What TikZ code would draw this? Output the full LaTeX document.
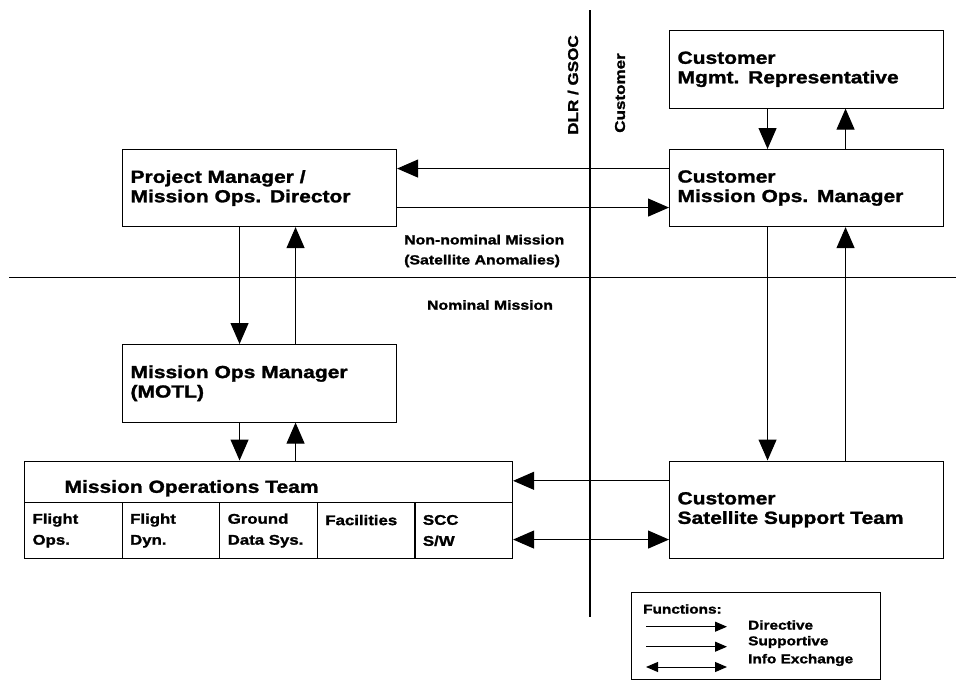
\documentclass[tikz,border=0pt]{standalone}
\usepackage{fontspec}
\setmainfont{Liberation Sans}[FakeStretch=1.2, BoldFeatures={FakeBold=1.5}]
\usetikzlibrary{arrows.meta}

\begin{document}
\begin{tikzpicture}[x=1pt, y=-1pt,
    box/.style={draw, line width=1.1pt, anchor=north west, align=left,
        inner xsep=8pt, inner ysep=0pt, text width=258pt, minimum width=274pt,
        font=\bfseries\fontsize{17.5}{19.5}\selectfont},
    cell/.style={draw, line width=1.1pt, anchor=north west, align=left,
        inner xsep=8pt, inner ysep=0pt, text width=81.6pt, minimum width=97.6pt,
        minimum height=56pt, font=\bfseries\fontsize{14}{21}\selectfont},
    note/.style={align=left, inner sep=0pt, font=\bfseries\fontsize{13.2}{20}\selectfont},
    side/.style={inner sep=0pt, font=\bfseries\fontsize{14.2}{17}\selectfont},
    legtext/.style={inner sep=0pt, font=\bfseries\fontsize{12.8}{15}\selectfont},
    arr/.style={line width=1.1pt, -{Triangle[length=21pt,width=18pt]}},
    arrboth/.style={line width=1.1pt, {Triangle[length=21pt,width=18pt]}-{Triangle[length=21pt,width=18pt]}},
    legarr/.style={line width=1pt, -{Triangle[length=12pt,width=10pt]}},
    legboth/.style={line width=1pt, {Triangle[length=12pt,width=10pt]}-{Triangle[length=12pt,width=10pt]}},
    divider/.style={line width=1.1pt}]

                \useasboundingbox (0,0) rectangle (956,680);

                % the two dividing lines
                \coordinate (vtop) at (590,10);
                \coordinate (vbot) at (590,617);
                \coordinate (hleft) at (9,277.5);
                \coordinate (hright) at (956,277.5);
                \draw[divider] (vtop) -- (vbot);
                \draw[divider] (hleft) -- (hright);

                \node[side, rotate=90] (dlr) at (573,85) {DLR / GSOC};
                \node[side, rotate=90] (cust) at (620,93) {Customer};
                \node[note, anchor=west] (nonnom) at (404,251) {Non-nominal Mission\\(Satellite Anomalies)};
                \node[note] (nom) at (490,305) {Nominal Mission};

                % boxes
                \node[box, minimum height=77.5pt] (cmr) at (669,30) {Customer\\Mgmt. Representative};
                \node[box, minimum height=77pt] (cmom) at (669,149) {Customer\\Mission Ops. Manager};
                \node[box, minimum height=77pt] (pm) at (122,149) {Project Manager /\\Mission Ops. Director};
                \node[box, minimum height=77.5pt] (mom) at (122,344) {Mission Ops Manager\\(MOTL)};
                \node[box, minimum height=97.5pt] (csst) at (669,460.5) {Customer\\Satellite Support Team};
                \node[box, inner xsep=40pt, text width=408pt, minimum width=488pt, minimum height=41.5pt,
                      text height=24pt, text depth=2pt] (mot) at (24,460.5) {Mission Operations Team};

                \node[cell] (fo) at (24,502) {Flight\\Ops.};
                \node[cell] (fd) at (121.6,502) {Flight\\Dyn.};
                \node[cell] (gds) at (219.2,502) {Ground\\Data Sys.};
                \node[cell] (fac) at (316.8,502) {Facilities\\\phantom{X}};
                \node[cell] (scc) at (414.4,502) {SCC\\S/W};

                % connections
                \draw[arr] ([xshift=-39pt]cmr.south) -- ([xshift=-39pt]cmom.north);
                \draw[arr] ([xshift=39pt]cmom.north) -- ([xshift=39pt]cmr.south);
                \draw[arr] ([yshift=19.5pt]cmom.west) -- ([yshift=19.5pt]pm.east);
                \draw[arr] ([yshift=-19.5pt]pm.east) -- ([yshift=-19.5pt]cmom.west);
                \draw[arr] ([xshift=-20pt]pm.south) -- ([xshift=-20pt]mom.north);
                \draw[arr] ([xshift=36pt]mom.north) -- ([xshift=36pt]pm.south);
                \draw[arr] ([xshift=-20pt]mom.south) -- ([xshift=-20pt]mom.south |- mot.north);
                \draw[arr] ([xshift=36pt]mom.south |- mot.north) -- ([xshift=36pt]mom.south);
                \draw[arr] ([xshift=-39pt]cmom.south) -- ([xshift=-39pt]csst.north);
                \draw[arr] ([xshift=39pt]csst.north) -- ([xshift=39pt]cmom.south);
                \draw[arr] ([yshift=29pt]csst.west) -- ([yshift=29pt]csst.west -| mot.east);
                \draw[arrboth] ([yshift=-9pt]scc.east) -- ([yshift=-9pt]scc.east -| csst.west);

                % legend
                \node[draw, line width=1pt, anchor=north west, minimum width=249pt, minimum height=87pt] (legend) at (631,592) {};
                \node[legtext, anchor=west] (fn) at (643,609) {Functions:};
                \coordinate (d1) at (646,626.7);
                \coordinate (d2) at (727,626.7);
                \coordinate (s1) at (646,646.7);
                \coordinate (s2) at (727,646.7);
                \coordinate (i1) at (646,667);
                \coordinate (i2) at (727,667);
                \draw[legarr] (d1) -- (d2);
                \draw[legarr] (s1) -- (s2);
                \draw[legboth] (i1) -- (i2);
                \node[legtext, anchor=west] (dir) at (748,625) {Directive};
                \node[legtext, anchor=west] (sup) at (748,642) {Supportive};
                \node[legtext, anchor=west] (info) at (748,660) {Info Exchange};

\end{tikzpicture}
\end{document}
